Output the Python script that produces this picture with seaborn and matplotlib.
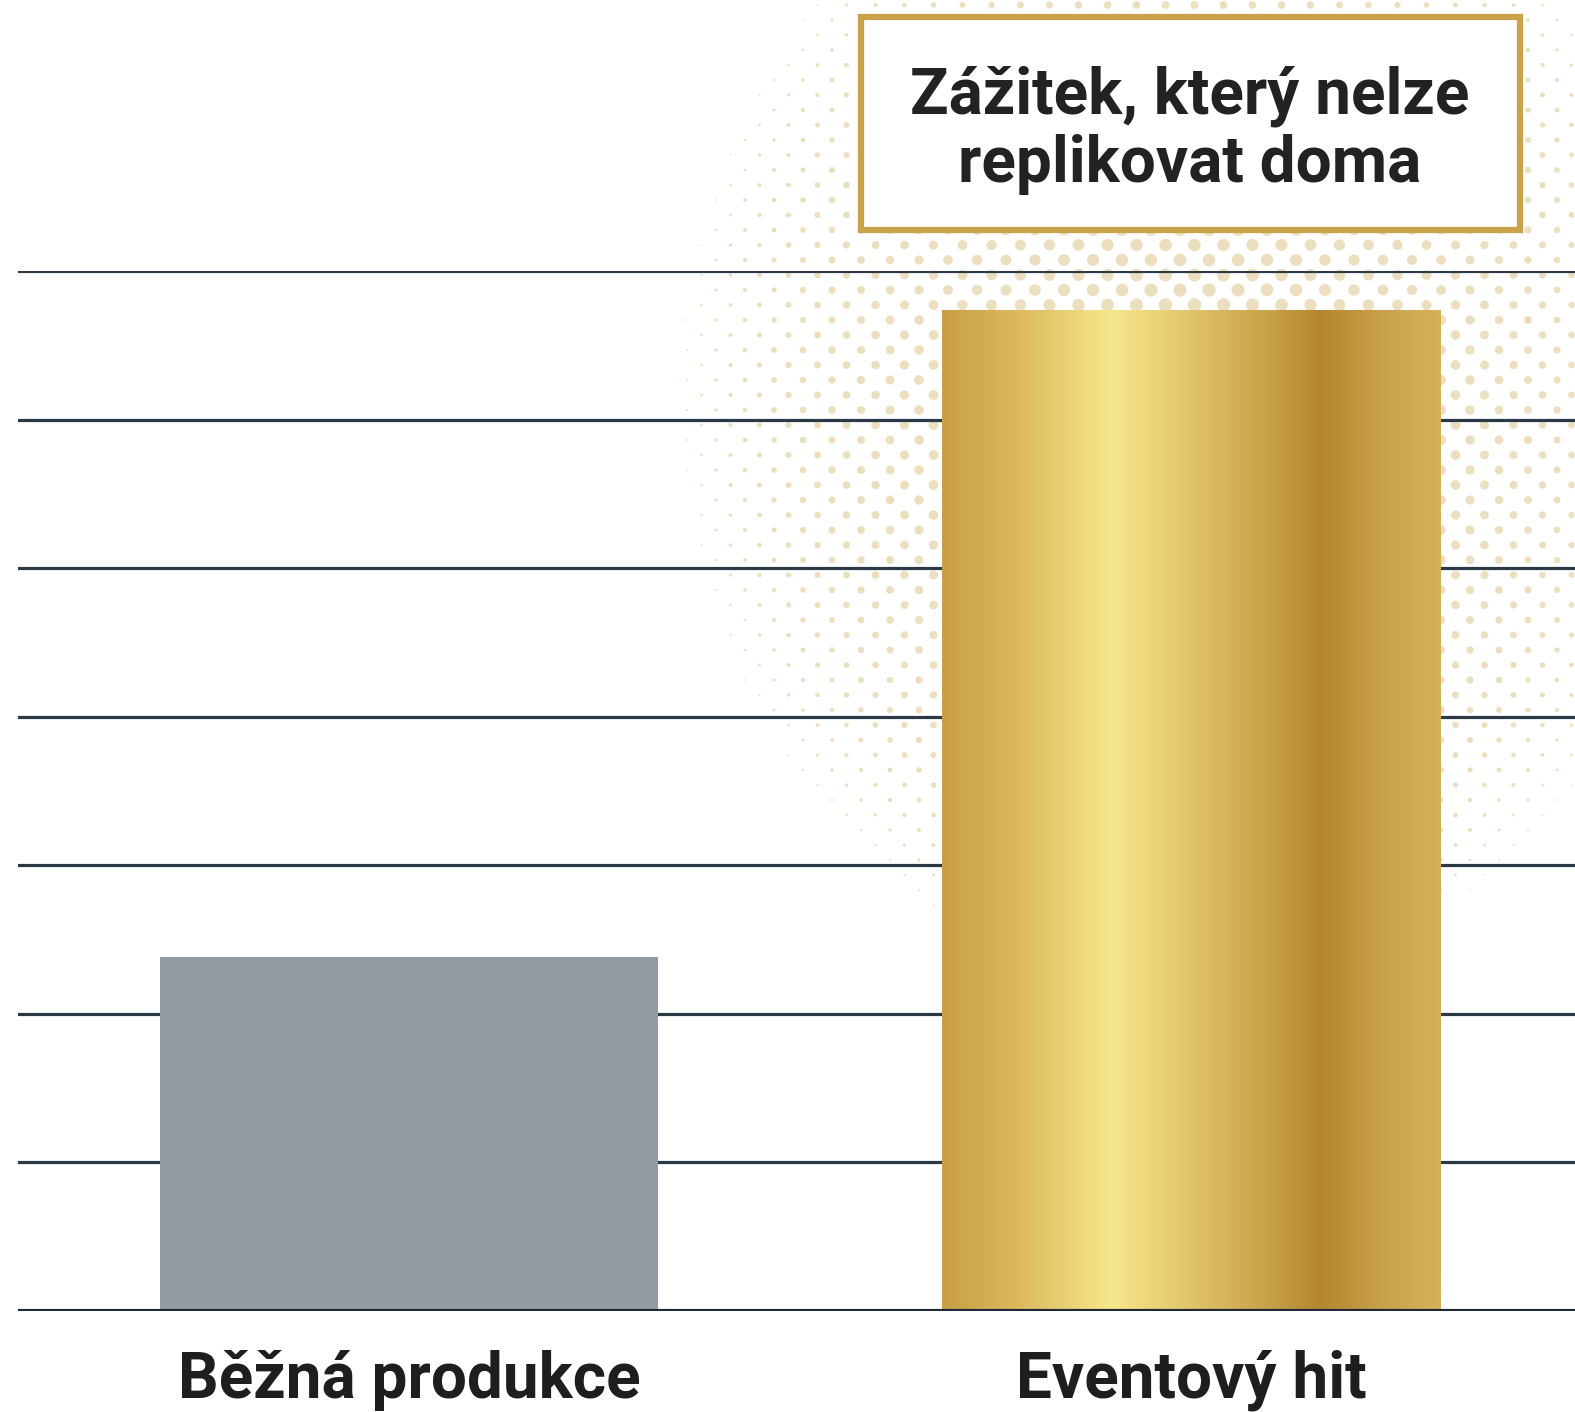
import numpy as np
import pandas as pd
import matplotlib
matplotlib.use("Agg")
import matplotlib.pyplot as plt
from matplotlib.colors import LinearSegmentedColormap
from matplotlib.patches import Rectangle
import seaborn as sns

# ---- data ----
categories = ["Běžná produkce", "Eventový hit"]
values = [2.38, 6.74]
callout_text = "Zážitek, který nelze\nreplikovat doma"
grid_levels = [1, 2, 3, 4, 5, 6, 7]

df = pd.DataFrame({"cat": categories, "val": values})

sns.set_theme(style="white")
plt.rcParams["font.family"] = ["Roboto", "DejaVu Sans"]

W, H = 1575, 1412
fig = plt.figure(figsize=(W / 100, H / 100), dpi=100)
fig.patch.set_facecolor("white")

# background axes in pixel coords for halftone glow + callout box
bg = fig.add_axes([0, 0, 1, 1], zorder=0)
bg.set_xlim(0, W)
bg.set_ylim(H, 0)
bg.axis("off")

# halftone dots (decoration)
cx, cy = 1190, 400
rx, ry = 520, 600
xs, ys, ss = [], [], []
row = 0
for y in np.arange(-10, 1050, 15.0):
    off = 14.5 if row % 2 else 0.0
    for x in np.arange(600 + off, W + 30, 29.0):
        d = np.sqrt(((x - cx) / rx) ** 2 + ((y - cy) / ry) ** 2)
        if d < 1.0:
            diam = 15.0 * (1 - d) ** 0.6
            if diam > 1.5:
                xs.append(x); ys.append(y); ss.append((diam * 0.72) ** 2)
    row += 1
bg.scatter(xs, ys, s=ss, color="#ecdfbf", linewidths=0, zorder=1)

# callout box
bg.add_patch(Rectangle((861, 17), 659, 213, facecolor="white",
                       edgecolor="#c9a24a", linewidth=4.5, zorder=3))
bg.text(1190, 130, callout_text, ha="center", va="center", fontsize=46,
        fontweight="bold", color="#222222", linespacing=1.15, zorder=4)

# main axes
ax_left = 18 / W
ax_bottom = (H - 1311) / H
ax_h = (1311 - 271) / H
ax = fig.add_axes([ax_left, ax_bottom, 1 - ax_left, ax_h], zorder=1)
ax.set_facecolor("none")

sns.barplot(data=df, x="cat", y="val", hue="cat",
            palette=["#8f9aa5", "#c9a24a"], width=0.637,
            legend=False, ax=ax, zorder=3, linewidth=0)

# gridlines
for g in grid_levels:
    ax.axhline(g, color="#2b3846", lw=2.3, zorder=1)
ax.axhline(0, color="#1c2a39", lw=3.0, zorder=4)

# gold gradient on the second bar
gold = LinearSegmentedColormap.from_list("gold", [
    (0.00, "#c99e45"), (0.15, "#dcb95d"), (0.34, "#f6e78c"),
    (0.50, "#e0c46a"), (0.65, "#c9a24a"), (0.76, "#b3862e"),
    (0.88, "#c9a04b"), (1.00, "#d6b15a")])
p = ax.patches[1]
x0, w, h = p.get_x(), p.get_width(), p.get_height()
grad = np.linspace(0, 1, 512).reshape(1, -1)
im = ax.imshow(grad, cmap=gold, aspect="auto", extent=[x0, x0 + w, 0, h],
               zorder=3, interpolation="bicubic")
im.set_clip_path(p)
p.set_facecolor("none")

ax.set_xlim(-0.5, 1.49)
ax.set_ylim(0, 7)
ax.set_yticks([])
ax.set_xlabel("")
ax.set_ylabel("")
for s in ax.spines.values():
    s.set_visible(False)
ax.tick_params(axis="x", length=0, pad=28, labelsize=46, labelcolor="#1e1e1e")
for t in ax.get_xticklabels():
    t.set_fontweight("bold")

fig.savefig("out.png", dpi=100)
